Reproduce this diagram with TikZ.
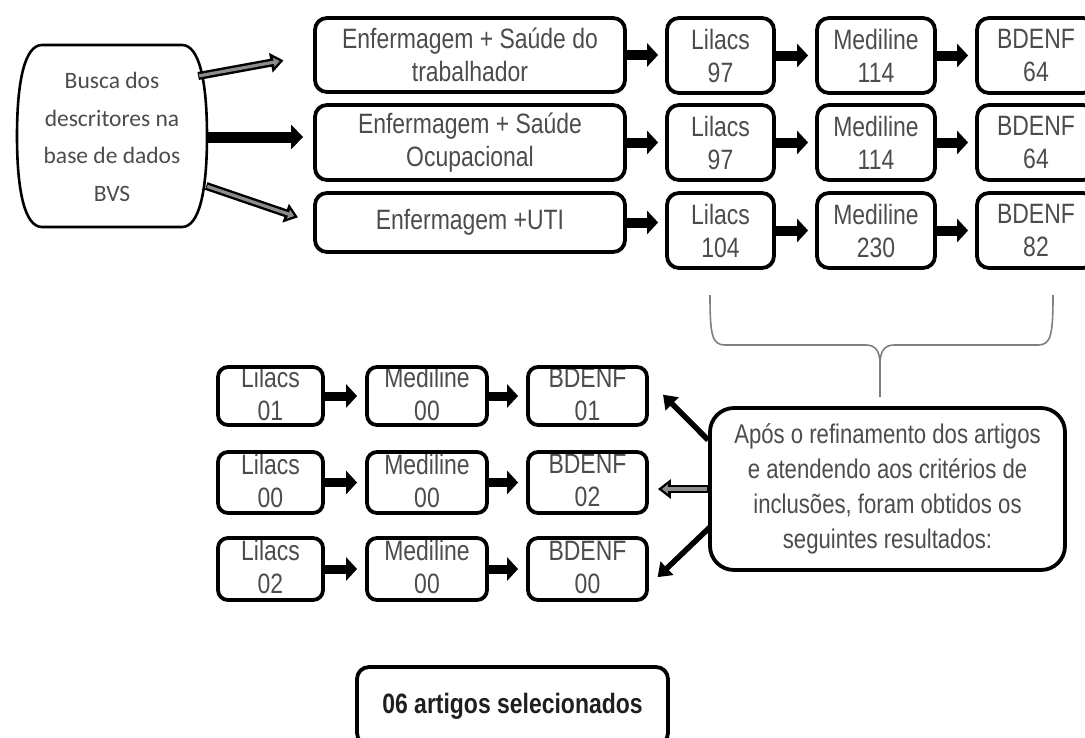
\documentclass[tikz,border=0pt]{standalone}
\usepackage{fontspec}
\setmainfont{Liberation Sans}
\newfontfamily\nar[FakeStretch=0.82]{Liberation Sans}
\newfontfamily\calfont{Carlito}
\usetikzlibrary{arrows.meta,calc}
\begin{document}
\begin{tikzpicture}[x=1pt,y=-1pt,
  box/.style={draw, line width=3.8pt, rounded corners=12pt, fill=white, text=black!70,
    font=\nar\fontsize{28}{33}\selectfont, align=center, inner sep=0pt},
  sbox/.style={draw, line width=3.8pt, rounded corners=10pt, fill=white, inner sep=0pt},
  cliptxt/.style 2 args={path picture={\node[font=\nar\fontsize{28}{33}\selectfont, text=black!70, align=center, inner sep=0pt] at ([yshift=2pt]path picture bounding box.center) {#1\\#2};}},
  blkarrow/.style={line width=10pt, -{Triangle[length=11pt,width=23pt]}, shorten >=7pt},
  diagarrow/.style={line width=5.5pt, -{Triangle[length=13pt,width=18pt]}},
  hollow/.style={line width=8pt, -{Triangle[length=13pt,width=19pt]},
    postaction={draw, black!45, line width=3.2pt, -{Triangle[length=6pt,width=9pt]}, shorten >=#1+4pt, shorten <=1pt}},
  bracestyle/.style={draw=black!50, line width=1.6pt}
]
\clip (0,0) rectangle (1085,737);
\fill[white] (0,0) rectangle (1085,737);

% left barrel node
\draw[line width=2.6pt, fill=white] (42,45) -- (182,45) .. controls (199,45) and (207,80) .. (207,136)
  .. controls (207,192) and (199,227) .. (182,227) -- (42,227)
  .. controls (25,227) and (17,192) .. (17,136) .. controls (17,80) and (25,45) .. (42,45) -- cycle;
\node[font=\calfont\fontsize{23.5}{37.5}\selectfont, text=black!70, align=center,
  minimum width=190pt, minimum height=182pt, inner sep=0pt] (busca) at (112,137)
  {Busca dos\\descritores na\\base de dados\\BVS};

% top rows
\node[box, minimum width=310pt, minimum height=74pt] (b1) at (470,55) {Enfermagem + Saúde do\\trabalhador};
\node[box, minimum width=310pt, minimum height=75pt] (b2) at (470,142.5) {Enfermagem + Saúde\\Ocupacional};
\node[box, minimum width=310pt, minimum height=59pt] (b3) at (470,222.5) {Enfermagem +UTI};

\node[box, minimum width=107pt, minimum height=75pt] (l1) at (720.5,55.5) {Lilacs\\97};
\node[box, minimum width=107pt, minimum height=75pt] (l2) at (720.5,142.5) {Lilacs\\97};
\node[box, minimum width=107pt, minimum height=75pt] (l3) at (720.5,230.5) {Lilacs\\104};
\node[box, minimum width=118pt, minimum height=75pt] (m1) at (876,55.5) {Mediline\\114};
\node[box, minimum width=118pt, minimum height=75pt] (m2) at (876,142.5) {Mediline\\114};
\node[box, minimum width=118pt, minimum height=75pt] (m3) at (876,230.5) {Mediline\\230};
\node[box, minimum width=118pt, minimum height=75pt] (d1) at (1036,55.5) {BDENF\\64};
\node[box, minimum width=118pt, minimum height=75pt] (d2) at (1036,142.5) {BDENF\\64};
\node[box, minimum width=118pt, minimum height=75pt] (d3) at (1036,230.5) {BDENF\\82};

% arrows from busca
\draw[hollow=30pt, shorten >=30pt] ([xshift=-9pt,yshift=61pt]busca.east) -- (b1.west);
\draw[line width=11pt, -{Triangle[length=12pt,width=24pt]}, shorten >=10pt] (busca.east) -- (busca.east -| b2.west);
\draw[hollow=16pt, shorten >=16pt] ([xshift=-1pt,yshift=-49pt]busca.east) -- (b3.west);

% row arrows
\draw[blkarrow] (b1.east) -- (b1.east -| l1.west);
\draw[blkarrow] (b2.east) -- (b2.east -| l2.west);
\draw[blkarrow] (b3.east) -- (b3.east -| l3.west);
\draw[blkarrow] (l1.east) -- (m1.west);
\draw[blkarrow] (l2.east) -- (m2.west);
\draw[blkarrow] (l3.east) -- (m3.west);
\draw[blkarrow] (m1.east) -- (d1.west);
\draw[blkarrow] (m2.east) -- (d2.west);
\draw[blkarrow] (m3.east) -- (d3.west);

% brace
\draw[bracestyle] (710,295) .. controls (710,335) and (712,345) .. (725,345) -- (866,345)
  .. controls (876,345) and (880,352) .. (880,364) -- (880,397);
\draw[bracestyle] (1053,295) .. controls (1053,335) and (1051,345) .. (1038,345) -- (894,345)
  .. controls (884,345) and (880,352) .. (880,364);

% result box
\node[box, rounded corners=24pt, font=\nar\fontsize{27}{35}\selectfont, minimum width=355pt, minimum height=162pt] (apos) at (887.5,489)
  {Após o refinamento dos artigos\\e atendendo aos critérios de\\inclusões, foram obtidos os\\seguintes resultados:};

% bottom rows
\node[sbox, cliptxt={Lilacs}{01}, minimum width=105pt, minimum height=58pt] (la) at (270.5,396) {};
\node[sbox, cliptxt={Mediline}{00}, minimum width=120pt, minimum height=58pt] (ma) at (427,396) {};
\node[sbox, cliptxt={BDENF}{01}, minimum width=119pt, minimum height=58pt] (da) at (587.5,396) {};
\node[sbox, cliptxt={Lilacs}{00}, minimum width=105pt, minimum height=61pt] (lb) at (270.5,482.5) {};
\node[sbox, cliptxt={Mediline}{00}, minimum width=120pt, minimum height=61pt] (mb) at (427,482.5) {};
\node[sbox, cliptxt={BDENF}{02}, minimum width=119pt, minimum height=61pt] (db) at (587.5,482.5) {};
\node[sbox, cliptxt={Lilacs}{02}, minimum width=105pt, minimum height=62pt] (lc) at (270.5,569) {};
\node[sbox, cliptxt={Mediline}{00}, minimum width=120pt, minimum height=62pt] (mc) at (427,569) {};
\node[sbox, cliptxt={BDENF}{00}, minimum width=119pt, minimum height=62pt] (dc) at (587.5,569) {};

\draw[blkarrow, line width=9pt, shorten >=8pt] (la.east) -- (ma.west);
\draw[blkarrow, line width=9pt, shorten >=8pt] (ma.east) -- (da.west);
\draw[blkarrow, line width=9pt, shorten >=8pt] (lb.east) -- (mb.west);
\draw[blkarrow, line width=9pt, shorten >=8pt] (mb.east) -- (db.west);
\draw[blkarrow, line width=9pt, shorten >=8pt] (lc.east) -- (mc.west);
\draw[blkarrow, line width=9pt, shorten >=8pt] (mc.east) -- (dc.west);

% arrows from result box
\draw[diagarrow, shorten >=20pt] ([yshift=49pt]apos.west) -- ($(da.east)!0.5!(da.north east)$);
\draw[hollow=9pt, shorten >=9pt] (apos.west) -- (apos.west -| db.east);
\draw[diagarrow, shorten >=12pt] ([xshift=2pt,yshift=-38pt]apos.west) -- ($(dc.east)!0.5!(dc.south east)$);

% final
\node[box, font=\nar\bfseries\fontsize{28}{33}\selectfont, text=black!88, minimum width=311pt, minimum height=78pt] (fim) at (512.5,706) {06 artigos selecionados};
\end{tikzpicture}
\end{document}
